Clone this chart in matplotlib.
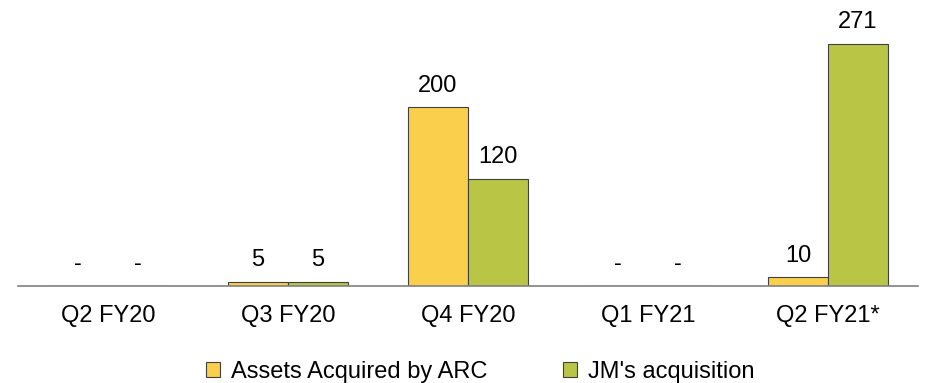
import numpy as np
import matplotlib.pyplot as plt

plt.rcParams['font.family'] = ['Liberation Sans', 'DejaVu Sans']

# данные
quarters = ['Q2 FY20', 'Q3 FY20', 'Q4 FY20', 'Q1 FY21', 'Q2 FY21*']
arc_assets = [0, 5, 200, 0, 10]
jm_acq = [0, 5, 120, 0, 271]
series_names = ['Assets Acquired by ARC', "JM's acquisition"]

yellow = '#F9CF4B'
green = '#B8C545'
edge = '#404040'
fs = 17

fig = plt.figure(figsize=(9.25, 3.83), dpi=100)
ax = fig.add_axes([18 / 925, 97 / 383, 900 / 925, 276 / 383])

x = np.arange(len(quarters))
w = 1 / 3

b1 = ax.bar(x - w / 2, arc_assets, w, color=yellow, edgecolor=edge, linewidth=0.8,
            label=series_names[0])
b2 = ax.bar(x + w / 2, jm_acq, w, color=green, edgecolor=edge, linewidth=0.8,
            label=series_names[1])

# подписи значений
for bars, vals in ((b1, arc_assets), (b2, jm_acq)):
    for rect, v in zip(bars, vals):
        txt = '-' if v == 0 else str(v)
        ax.annotate(txt, (rect.get_x() + rect.get_width() / 2, v),
                    xytext=(0, 15.5), textcoords='offset points',
                    ha='center', va='center', fontsize=fs)

ax.set_xlim(-0.5, len(quarters) - 0.5)
ax.set_ylim(0, 309)
ax.set_xticks(x)
ax.set_xticklabels(quarters, fontsize=fs)
ax.tick_params(axis='x', length=0, pad=14)
ax.set_yticks([])
for s in ['top', 'right', 'left']:
    ax.spines[s].set_visible(False)
ax.spines['bottom'].set_color('#808080')
ax.spines['bottom'].set_linewidth(1.2)

fig.legend(handles=[b1, b2], loc='center', bbox_to_anchor=(480 / 925, 1 - 372 / 383),
           ncol=2, frameon=False, fontsize=fs, handlelength=0.6, handleheight=0.6,
           handletextpad=0.45, columnspacing=3.2, borderpad=0)

fig.savefig('out.png', dpi=100)
